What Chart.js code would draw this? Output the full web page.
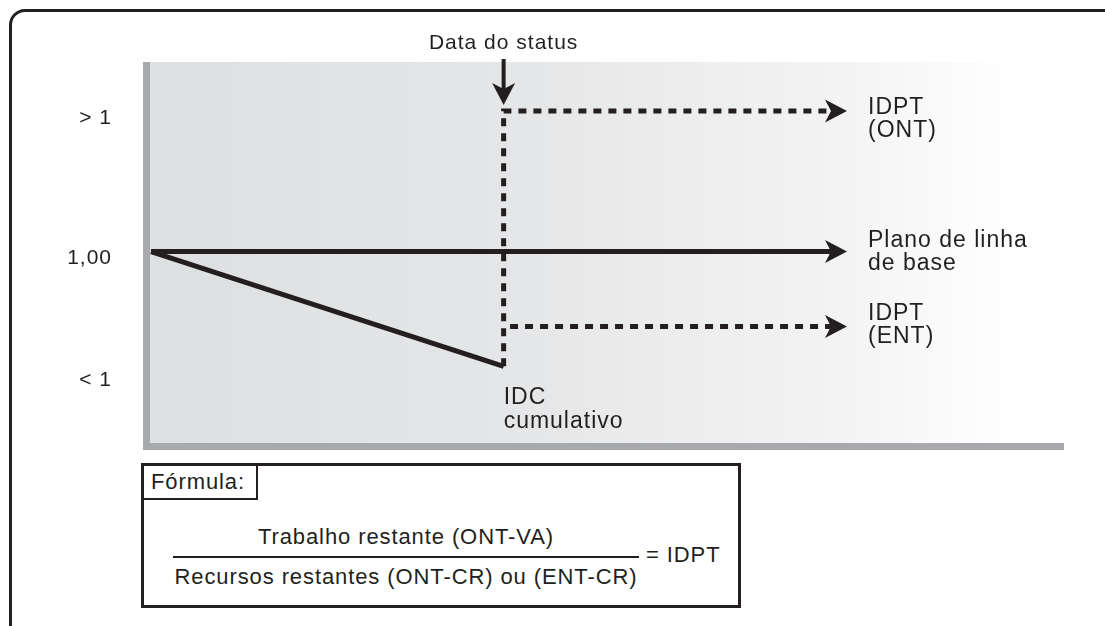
<!DOCTYPE html>
<html>
<head>
<meta charset="utf-8">
<script src="https://cdn.jsdelivr.net/npm/chart.js@4.4.1/dist/chart.umd.min.js"></script>
<style>
  html, body { margin: 0; padding: 0; background: #fff; overflow: hidden; }
  #wrap { position: relative; width: 1105px; height: 626px; overflow: hidden;
          font-family: "Liberation Sans", Arial, sans-serif; color: #231f20; }
  #frame { position: absolute; left: 9px; top: 9px; width: 1200px; height: 700px;
           border: 3px solid #231f20; border-top-left-radius: 16px; }
  #myChart { position: absolute; left: 0; top: 0; }
  #formula { position: absolute; left: 141px; top: 463px; width: 600px; height: 145px;
             box-sizing: border-box; border: 3px solid #231f20; background: #fff;
             font-size: 22px; letter-spacing: 0.9px; }
  #formula .tag { position: absolute; left: 0; top: 0; width: 114px; height: 34px;
                  border-right: 2px solid #231f20; border-bottom: 2px solid #231f20;
                  line-height: 32px; padding-left: 7px; box-sizing: border-box; }
  #formula .num { position: absolute; left: 29px; width: 466px; top: 58px; text-align: center; }
  #formula .bar { position: absolute; left: 29px; width: 466px; top: 90px; border-top: 2px solid #231f20; }
  #formula .den { position: absolute; left: 29px; width: 466px; top: 98px; text-align: center; }
  #formula .eq  { position: absolute; left: 502px; top: 76px; }
</style>
</head>
<body>
<div id="wrap">
  <div id="frame"></div>
  <canvas id="myChart" width="1105" height="626"></canvas>
  <div id="formula">
    <div class="tag">Fórmula:</div>
    <div class="num">Trabalho restante (ONT-VA)</div>
    <div class="bar"></div>
    <div class="den">Recursos restantes (ONT-CR) ou (ENT-CR)</div>
    <div class="eq">= IDPT</div>
  </div>
</div>
<script>
// eixo Y: posicoes dos rotulos e textos
const yTickValues = [0.34, 0.967, 1.685];
const yTickLabels = ['< 1', '1,00', '> 1'];

// data do status (eixo X)
const statusDate = 39;
const statusLabel = 'Data do status';

// linhas
const baselineX = [0.55, 74.7];
const baselineY = [1, 1];
const idcX = [0.55, 39];
const idcY = [1, 0.41];
const ontX = [39, 39, 74.7];
const ontY = [0.41, 1.723, 1.723];
const entX = [39.7, 74.7];
const entY = [0.615, 0.615];

const ontLabel = ['IDPT', '(ONT)'];
const baselineLabel = ['Plano de linha', 'de base'];
const entLabel = ['IDPT', '(ENT)'];
const idcLabel = ['IDC', 'cumulativo'];

const ink = '#231f20';
const FONT = '"Liberation Sans", Arial, sans-serif';

function pts(xs, ys) {
    return xs.map((x, i) => ({ x: x, y: ys[i] }));
}

function lineSet(xs, ys, dashed, arrow, text, dy) {
    return {
        data: pts(xs, ys),
        showLine: true,
        borderColor: ink,
        borderWidth: 5,
        borderDash: dashed ? [8, 7] : [],
        borderCapStyle: 'butt',
        borderJoinStyle: 'miter',
        pointRadius: 0,
        fill: false,
        tension: 0,
        clip: false,
        arrow: arrow,
        endText: text,
        endDy: dy
    };
}

function arrowHead(ctx, x, y, ang) {
    ctx.save();
    ctx.translate(x, y);
    ctx.rotate(ang);
    ctx.beginPath();
    ctx.moveTo(16, 0);
    ctx.lineTo(-6, -11.5);
    ctx.lineTo(0, 0);
    ctx.lineTo(-6, 11.5);
    ctx.closePath();
    ctx.fillStyle = ink;
    ctx.fill();
    ctx.restore();
}

const decor = {
    id: 'decor',
    beforeDraw(chart) {
        const ctx = chart.ctx;
        const a = chart.chartArea;
        const g = ctx.createLinearGradient(a.left, 0, a.right, 0);
        g.addColorStop(0, '#dedfe1');
        g.addColorStop(0.4, '#e5e6e7');
        g.addColorStop(0.75, '#f3f3f4');
        g.addColorStop(0.95, '#ffffff');
        ctx.fillStyle = g;
        ctx.fillRect(a.left, a.top - 3, a.right - a.left, a.bottom - a.top + 3);
        ctx.letterSpacing = '1px';
    },
    afterDatasetsDraw(chart) {
        const ctx = chart.ctx;
        const xs = chart.scales.x;
        const ys = chart.scales.y;
        ctx.save();
        ctx.fillStyle = ink;
        ctx.letterSpacing = '1px';
        ctx.font = '23px ' + FONT;
        ctx.textBaseline = 'alphabetic';
        chart.data.datasets.forEach((ds, i) => {
            const pts = chart.getDatasetMeta(i).data;
            if (ds.arrow) {
                const p = pts[pts.length - 1], q = pts[pts.length - 2];
                arrowHead(ctx, p.x, p.y, Math.atan2(p.y - q.y, p.x - q.x));
            }
            if (ds.endText) {
                const p = pts[pts.length - 1];
                ctx.textAlign = 'left';
                ds.endText.forEach((t, k) => ctx.fillText(t, p.x + 37, p.y + ds.endDy + k * 23));
            }
        });
        // IDC cumulativo
        const sx = xs.getPixelForValue(statusDate);
        const iy = ys.getPixelForValue(idcY[idcY.length - 1]);
        ctx.textAlign = 'left';
        idcLabel.forEach((t, k) => ctx.fillText(t, sx, iy + 38 + k * 24));
        // Data do status
        const topY = ys.getPixelForValue(ontY[1]);
        ctx.fillRect(sx - 2, 59, 4, topY - 59 - 20);
        arrowHead(ctx, sx, topY - 22, Math.PI / 2);
        ctx.font = '21px ' + FONT;
        ctx.textAlign = 'center';
        ctx.fillText(statusLabel, sx, 49);
        ctx.restore();
    }
};

const ctx = document.getElementById('myChart').getContext('2d');

const config = {
    type: 'scatter',
    data: {
        datasets: [
            lineSet(baselineX, baselineY, false, true, baselineLabel, -5),
            lineSet(idcX, idcY, false, false, null, 0),
            lineSet(ontX, ontY, true, true, ontLabel, 3),
            lineSet(entX, entY, true, true, entLabel, -6)
        ]
    },
    options: {
        responsive: false,
        animation: false,
        devicePixelRatio: 1,
        layout: { padding: { left: 0, top: 65, right: 42, bottom: 0 } },
        scales: {
            x: {
                type: 'linear',
                min: 0,
                max: 100,
                grid: { display: false, drawTicks: false },
                ticks: { display: false },
                border: { display: true, color: '#a7a9ac', width: 7 },
                afterFit: function(s) { s.height = 180; }
            },
            y: {
                type: 'linear',
                min: 0,
                max: 1.96,
                grid: { display: false, drawTicks: false },
                border: { display: true, color: '#a7a9ac', width: 7 },
                afterBuildTicks: function(s) {
                    s.ticks = yTickValues.map(v => ({ value: v }));
                },
                ticks: {
                    color: ink,
                    font: { family: FONT, size: 21 },
                    padding: 34,
                    crossAlign: 'near',
                    callback: function(v, i) { return yTickLabels[i]; }
                },
                afterFit: function(s) { s.width = 146; }
            }
        },
        plugins: {
            legend: { display: false },
            tooltip: { enabled: false }
        }
    },
    plugins: [decor]
};

const myChart = new Chart(ctx, config);
</script>
</body>
</html>
